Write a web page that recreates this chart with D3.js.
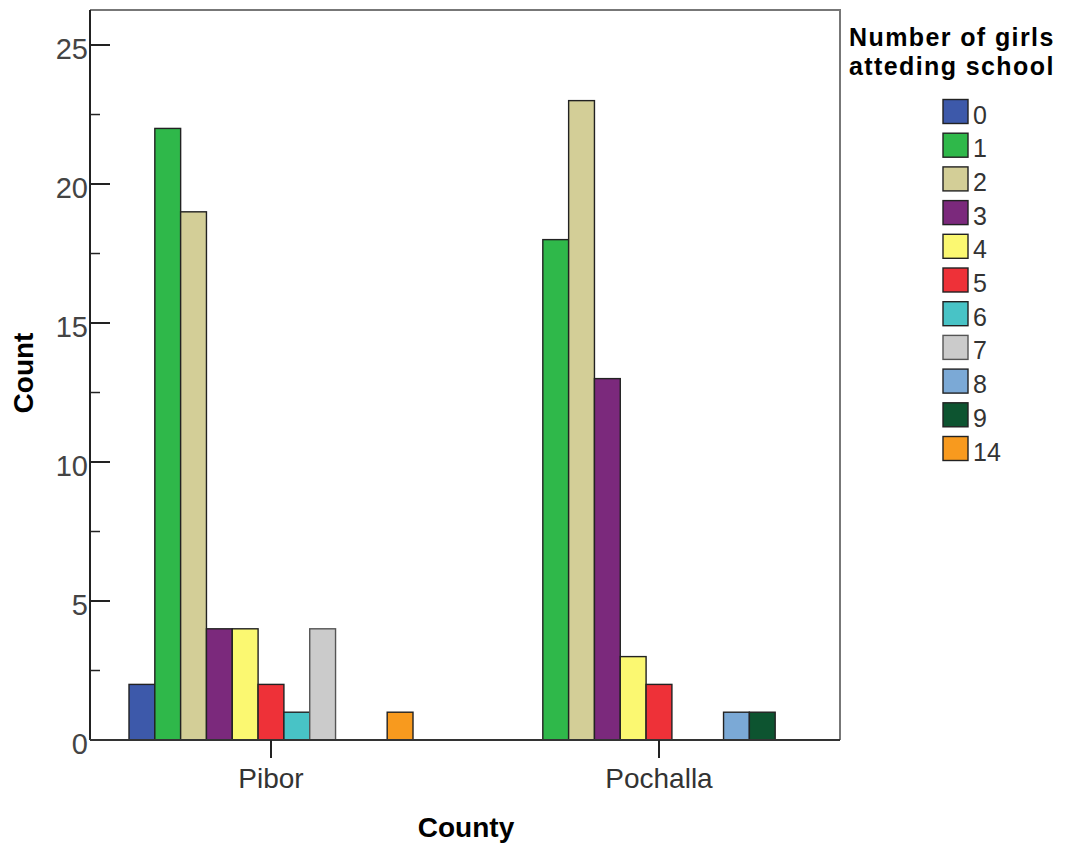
<!DOCTYPE html>
<html>
<head>
<meta charset="utf-8">
<script src="https://cdn.jsdelivr.net/npm/d3@7"></script>
<style>
  body { margin: 0; background: #fff; }
  svg { display: block; font-family: "Liberation Sans", Arial, sans-serif; }
</style>
</head>
<body>
<svg id="chart" width="1073" height="850"></svg>
<script>
const counties = ["Pibor", "Pochalla"];
const girlCategories = ["0", "1", "2", "3", "4", "5", "6", "7", "8", "9", "14"];
const piborCounts =    [2, 22, 19, 4, 4, 2, 1, 4, 0, 0, 1];
const pochallaCounts = [0, 18, 23, 13, 3, 2, 0, 0, 1, 1, 0];
const categoryColors = ["#3d59aa", "#2fb84a", "#d3ce97", "#7b297c", "#fbf871", "#ee3138",
                        "#48c3c6", "#cbcbcb", "#7ba9d6", "#0d5430", "#f89a1e"];
const yTicks = [0, 5, 10, 15, 20, 25];
const yMinorTicks = [2.5, 7.5, 12.5, 17.5, 22.5];
const legendTitleLines = ["Number of girls", "atteding school"];

const seriesByCounty = { "Pibor": piborCounts, "Pochalla": pochallaCounts };

const svg = d3.select("#chart");
const plotLeft = 90, plotRight = 840, plotTop = 10, plotBottom = 740;

const x = d3.scalePoint().domain(counties).range([plotLeft, plotRight]).padding(0.4665);
const xInner = d3.scaleBand().domain(girlCategories).range([-142, 142]).paddingInner(0);
const y = d3.scaleLinear().domain([0, 26.26]).range([plotBottom, plotTop]);
const color = d3.scaleOrdinal().domain(girlCategories).range(categoryColors);

// frame (top and right, gray)
svg.append("path")
  .attr("d", `M${plotLeft},${plotTop}H${plotRight}V${plotBottom}`)
  .attr("fill", "none").attr("stroke", "#777").attr("stroke-width", 2);

// bars
const groups = svg.append("g").selectAll("g").data(counties).join("g")
  .attr("transform", d => `translate(${x(d)},0)`);
groups.selectAll("rect")
  .data(c => girlCategories.map((k, i) => ({ k, v: seriesByCounty[c][i] })).filter(d => d.v > 0))
  .join("rect")
  .attr("x", d => xInner(d.k))
  .attr("width", xInner.bandwidth())
  .attr("y", d => y(d.v))
  .attr("height", d => y(0) - y(d.v))
  .attr("fill", d => color(d.k))
  .attr("stroke", d => d.k === "7" ? "#555" : "#222")
  .attr("stroke-width", 1.4);

// y axis
const yAxis = svg.append("g").attr("transform", `translate(${plotLeft},0)`);
yAxis.append("line").attr("x1", 0).attr("x2", 0).attr("y1", plotTop).attr("y2", plotBottom)
  .attr("stroke", "#222").attr("stroke-width", 2);
yAxis.selectAll(".major").data(yTicks).join("line").attr("class", "major")
  .attr("x1", 0).attr("x2", 20).attr("y1", d => y(d)).attr("y2", d => y(d))
  .attr("stroke", "#222").attr("stroke-width", 2);
yAxis.selectAll(".minor").data(yMinorTicks).join("line").attr("class", "minor")
  .attr("x1", 0).attr("x2", 10).attr("y1", d => y(d)).attr("y2", d => y(d))
  .attr("stroke", "#222").attr("stroke-width", 1.5);
yAxis.selectAll("text").data(yTicks).join("text")
  .attr("x", -2).attr("y", d => y(d) + 14)
  .attr("text-anchor", "end")
  .attr("font-size", 29).attr("fill", "#444")
  .text(d => d);

// x axis
const xAxis = svg.append("g");
xAxis.append("line").attr("x1", plotLeft).attr("x2", plotRight).attr("y1", plotBottom).attr("y2", plotBottom)
  .attr("stroke", "#333").attr("stroke-width", 2);
xAxis.selectAll(".tick").data(counties).join("line").attr("class", "tick")
  .attr("x1", d => x(d)).attr("x2", d => x(d)).attr("y1", plotBottom).attr("y2", plotBottom + 18)
  .attr("stroke", "#222").attr("stroke-width", 2);
xAxis.selectAll("text").data(counties).join("text")
  .attr("x", d => x(d)).attr("y", 788)
  .attr("text-anchor", "middle").attr("font-size", 28).attr("fill", "#333")
  .text(d => d);

// axis titles
svg.append("text").attr("x", 466).attr("y", 837).attr("text-anchor", "middle")
  .attr("font-size", 28).attr("font-weight", "bold").attr("fill", "#000").text("County");
svg.append("text").attr("transform", "translate(33,373) rotate(-90)").attr("text-anchor", "middle")
  .attr("font-size", 28).attr("font-weight", "bold").attr("fill", "#000").text("Count");

// legend
const legend = svg.append("g");
legend.append("text").attr("x", 849).attr("y", 46)
  .attr("font-size", 25).attr("font-weight", "bold").attr("letter-spacing", 1.4)
  .selectAll("tspan").data(legendTitleLines).join("tspan")
  .attr("x", 849).attr("dy", (d, i) => i === 0 ? 0 : 29)
  .text(d => d);
const items = legend.selectAll(".item").data(girlCategories).join("g").attr("class", "item")
  .attr("transform", (d, i) => `translate(943,${99.5 + i * 33.7})`);
items.append("rect").attr("width", 25).attr("height", 24)
  .attr("fill", d => color(d)).attr("stroke", d => d === "7" ? "#555" : "#222").attr("stroke-width", 1.4);
items.append("text").attr("x", 30).attr("y", 24)
  .attr("font-size", 25).attr("fill", "#333").text(d => d);
</script>
</body>
</html>
